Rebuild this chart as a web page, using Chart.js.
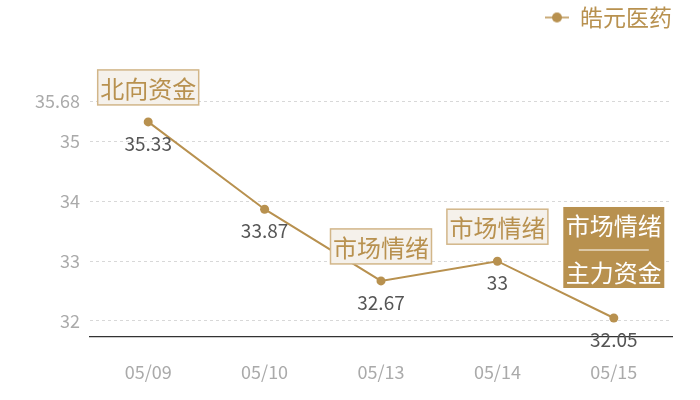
<!DOCTYPE html>
<html>
<head>
<meta charset="utf-8">
<script src="https://cdn.jsdelivr.net/npm/chart.js@4.4.1/dist/chart.umd.min.js"></script>
<style>
  body { margin: 0; background: #fff; }
  #wrap { width: 700px; height: 400px; }
</style>
</head>
<body>
<div id="wrap"><canvas id="chart"></canvas></div>
<script>
// 데이터
const labels = ['05/09', '05/10', '05/13', '05/14', '05/15'];
const prices = [35.33, 33.87, 32.67, 33, 32.05];
const yTicks = [32, 33, 34, 35, 35.68];
const notes = ['北向资金', '', '市场情绪', '市场情绪', ''];
const lastNote = ['市场情绪', '主力资金'];

const GOLD = '#b8914f';
const FONT = '"Noto Sans CJK SC", "Noto Sans", sans-serif';

// legend marker: line with dot
const marker = document.createElement('canvas');
marker.width = 24; marker.height = 12;
(function(){
  const g = marker.getContext('2d');
  g.strokeStyle = GOLD; g.lineWidth = 1.5;
  g.beginPath(); g.moveTo(0, 6); g.lineTo(24, 6); g.stroke();
  g.fillStyle = GOLD;
  g.beginPath(); g.arc(12, 6, 5, 0, Math.PI * 2); g.fill();
})();

// 범례 높이 -> 차트 영역 top 위치
const legendSpace = {
  id: 'legendSpace',
  beforeInit(chart) {
    const fit = chart.legend.fit;
    chart.legend.fit = function() {
      fit.bind(chart.legend)();
      this.height = 95;
    };
  }
};

// 값 라벨 + 메모 박스
const notePlugin = {
  id: 'notes',
  afterDatasetsDraw(chart) {
    const ctx = chart.ctx;
    const pts = chart.getDatasetMeta(0).data;
    ctx.save();
    ctx.textAlign = 'center';
    ctx.textBaseline = 'middle';

    // value labels
    ctx.font = '19px ' + FONT;
    ctx.fillStyle = '#555';
    pts.forEach((p, i) => {
      ctx.fillText(String(prices[i]), p.x, p.y + 22);
    });

    // outline boxes
    ctx.font = '24px ' + FONT;
    pts.forEach((p, i) => {
      if (!notes[i]) return;
      const w = 101, h = 35;
      const x = p.x - w / 2, y = p.y - 17 - h;
      ctx.fillStyle = '#f5f1eb';
      ctx.fillRect(x, y, w, h);
      ctx.strokeStyle = '#d2b689';
      ctx.lineWidth = 1.5;
      ctx.strokeRect(x, y, w, h);
      ctx.fillStyle = GOLD;
      ctx.fillText(notes[i], p.x, y + h / 2 + 1);
    });

    // filled box on last point
    const p = pts[pts.length - 1];
    const w = 101, h = 81;
    const x = p.x - w / 2, y = p.y - 30 - h;
    ctx.fillStyle = GOLD;
    ctx.fillRect(x, y, w, h);
    ctx.fillStyle = '#fff';
    ctx.fillText(lastNote[0], p.x, y + 19);
    ctx.fillText(lastNote[1], p.x, y + 66);
    ctx.strokeStyle = '#fff';
    ctx.lineWidth = 1.2;
    ctx.beginPath();
    ctx.moveTo(p.x - 35, y + 43);
    ctx.lineTo(p.x + 35, y + 43);
    ctx.stroke();
    ctx.restore();
  }
};

new Chart(document.getElementById('chart'), {
  type: 'line',
  data: {
    labels: labels,
    datasets: [{
      label: '皓元医药',
      data: prices,
      borderColor: GOLD,
      backgroundColor: GOLD,
      borderWidth: 2,
      pointRadius: 4.5,
      pointHoverRadius: 4.5,
      pointBackgroundColor: GOLD,
      pointBorderWidth: 0,
      tension: 0
    }]
  },
  options: {
    responsive: true,
    maintainAspectRatio: false,
    animation: false,
    layout: { padding: { top: 6, right: 28, bottom: 0, left: 0 } },
    plugins: {
      legend: {
        position: 'top',
        align: 'end',
        labels: {
          usePointStyle: true,
          pointStyle: marker,
          color: GOLD,
          font: { size: 23, family: FONT },
          padding: 0,
          generateLabels(chart) {
            return [{
              text: chart.data.datasets[0].label,
              pointStyle: marker,
              fontColor: GOLD,
              strokeStyle: GOLD,
              fillStyle: GOLD,
              datasetIndex: 0
            }];
          }
        }
      },
      tooltip: { enabled: false }
    },
    scales: {
      x: {
        offset: true,
        grid: { display: false, drawTicks: false },
        border: { display: true, color: '#333', width: 1.2 },
        afterFit(axis) { axis.height = 63; },
        ticks: { color: '#aaa', font: { size: 18, family: FONT }, padding: 24 }
      },
      y: {
        min: 31.732,
        max: 35.68,
        afterBuildTicks(axis) {
          axis.ticks = yTicks.map(v => ({ value: v }));
        },
        afterFit(axis) { axis.width = 90; },
        grid: { color: '#d8d8d8', drawTicks: false, lineWidth: 1 },
        border: { display: false, dash: [3, 3] },
        ticks: {
          color: '#aaa',
          font: { size: 18, family: FONT },
          padding: 10,
          callback: v => String(v)
        }
      }
    }
  },
  plugins: [legendSpace, notePlugin]
});
</script>
</body>
</html>
